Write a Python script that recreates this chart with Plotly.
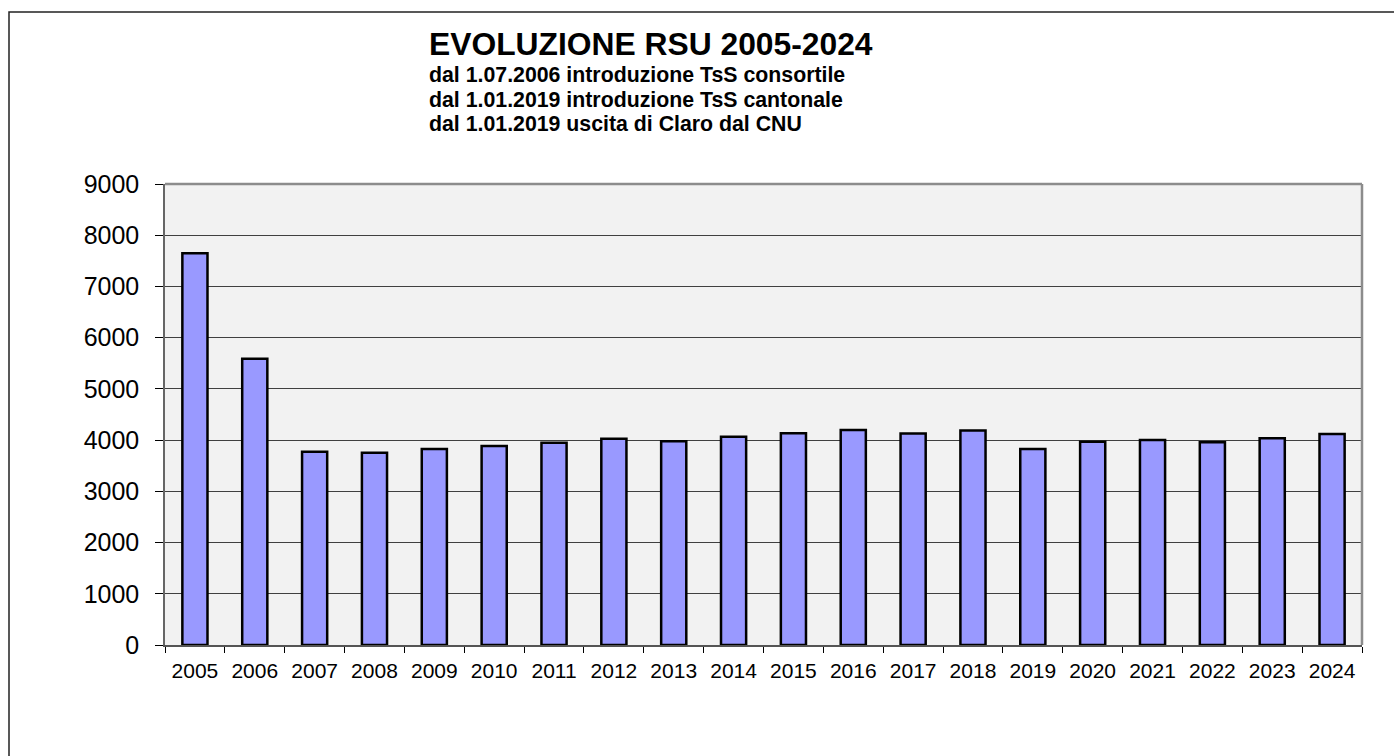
import plotly.graph_objects as go

years = ["2005", "2006", "2007", "2008", "2009", "2010", "2011", "2012", "2013", "2014",
         "2015", "2016", "2017", "2018", "2019", "2020", "2021", "2022", "2023", "2024"]
rsu = [7650, 5590, 3775, 3755, 3825, 3885, 3950, 4028, 3977, 4067,
       4133, 4197, 4130, 4190, 3826, 3970, 4003, 3957, 4036, 4120]

title_text = "EVOLUZIONE RSU 2005-2024"
subtitle_lines = [
    "dal 1.07.2006 introduzione TsS consortile",
    "dal 1.01.2019 introduzione TsS cantonale",
    "dal 1.01.2019 uscita di Claro dal CNU",
]
y_ticks = [0, 1000, 2000, 3000, 4000, 5000, 6000, 7000, 8000, 9000]

FONT = "Arial, 'Liberation Sans', sans-serif"

W, H = 1394, 756
L, R, T, B = 165, 1362, 184, 645

def px_x(p):
    return (p - L) / (R - L)

def px_y(p):
    return (B - p) / (B - T)

fig = go.Figure()
fig.add_trace(go.Bar(
    x=years, y=rsu,
    marker=dict(color="#9999FF", line=dict(color="black", width=2.5)),
    hoverinfo="x+y",
))

annotations = [dict(
    text="<b>" + title_text + "</b>", xref="paper", yref="paper",
    x=px_x(427), y=px_y(43.5), xanchor="left", yanchor="middle",
    showarrow=False, font=dict(family=FONT, size=31.8, color="black"),
)]
sub_y = [75.5, 100, 124]
for line, yy in zip(subtitle_lines, sub_y):
    annotations.append(dict(
        text="<b>" + line + "</b>", xref="paper", yref="paper",
        x=px_x(427), y=px_y(yy), xanchor="left", yanchor="middle",
        showarrow=False, font=dict(family=FONT, size=21.3, color="black"),
    ))

shapes = [
    # outer chart border (extends past the page)
    dict(type="rect", xref="paper", yref="paper",
         x0=px_x(9), x1=px_x(1420), y0=px_y(780), y1=px_y(12),
         line=dict(color="#222222", width=1.5), layer="below"),
    # plot frame top/right (gray)
    dict(type="line", xref="paper", yref="paper", x0=0, x1=1, y0=1, y1=1,
         line=dict(color="#8c8c8c", width=2.5), layer="above"),
    dict(type="line", xref="paper", yref="paper", x0=1, x1=1, y0=0, y1=1,
         line=dict(color="#8c8c8c", width=2.5), layer="above"),
]

fig.update_layout(
    width=W, height=H,
    margin=dict(l=L, r=W - R, t=T, b=H - B),
    paper_bgcolor="white",
    plot_bgcolor="#F2F2F2",
    bargap=0.58,
    showlegend=False,
    font=dict(family=FONT, color="black"),
    annotations=annotations,
    shapes=shapes,
    xaxis=dict(
        type="category",
        tickson="boundaries",
        ticks="outside", ticklen=6, tickwidth=1, tickcolor="black",
        ticklabelstandoff=6,
        showgrid=False,
        showline=True, linecolor="#555555", linewidth=1.5,
        tickfont=dict(family=FONT, size=21, color="black"),
        zeroline=False,
    ),
    yaxis=dict(
        range=[0, 9000],
        tickvals=y_ticks,
        ticks="outside", ticklen=8, tickwidth=1, tickcolor="black",
        ticklabelstandoff=11,
        showgrid=True, gridcolor="#404040", gridwidth=1,
        showline=True, linecolor="#666666", linewidth=1.5,
        tickfont=dict(family=FONT, size=25, color="black"),
        zeroline=False,
    ),
)

fig.write_html(
    "out.html",
    config={"displayModeBar": False},
    post_script="document.body.style.margin='0';document.body.style.overflow='hidden';",
)
